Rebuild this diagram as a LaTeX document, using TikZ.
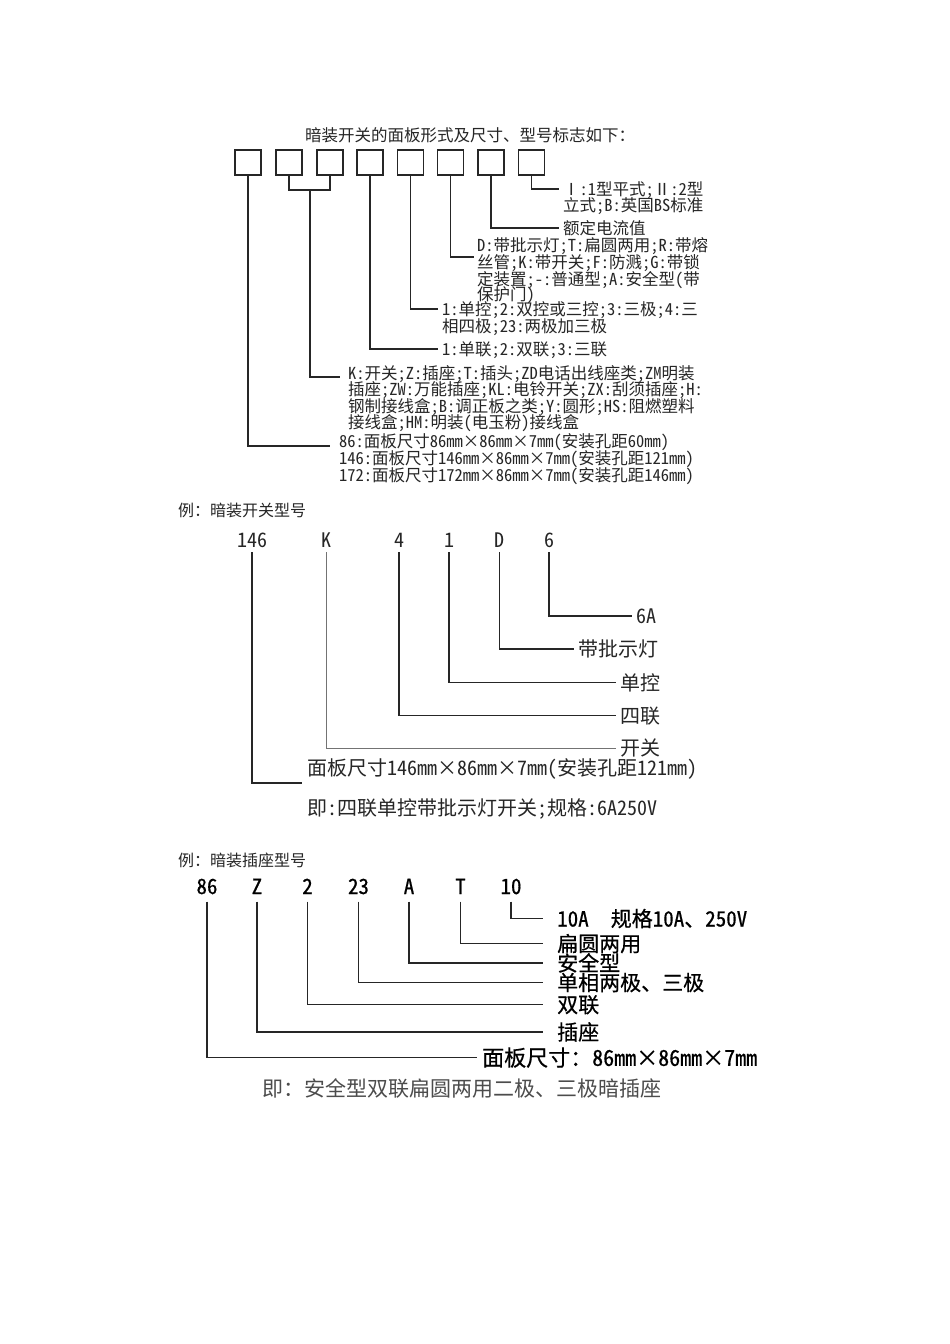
\documentclass[tikz,border=0pt]{standalone}
\usepackage{fontspec}
\newfontfamily\cjk[RawFeature=+hwid]{Noto Sans CJK SC}
\newfontfamily\cjkheavy[RawFeature=+hwid,FakeBold=0.6]{Noto Sans CJK SC}
\begin{document}
\begin{tikzpicture}[x=1pt,y=-1pt,
  conn/.style={line width=1.2pt, black!85},
  connthin/.style={line width=0.8pt, black!55},
  box/.style={draw, line width=1.1pt, black!85, minimum width=26pt, minimum height=25pt, inner sep=0pt},
  t1/.style={anchor=west, inner xsep=4pt, inner ysep=0pt, text height=14.5pt, text depth=2pt, font=\cjk\fontsize{16.5}{18}\selectfont, text=black!85},
  hd/.style={anchor=west, inner sep=0pt, text height=14pt, text depth=2pt, font=\cjk\fontsize{16}{18}\selectfont, text=black!85},
  t2/.style={anchor=west, inner xsep=4pt, inner ysep=0pt, text height=17.6pt, text depth=2.4pt, font=\cjk\fontsize{20}{22}\selectfont, text=black!85},
  code2/.style={inner xsep=0pt, inner ysep=2pt, text height=17.6pt, text depth=2.4pt, font=\cjk\fontsize{20}{22}\selectfont, text=black!85},
  t3/.style={anchor=west, inner xsep=14pt, inner ysep=0pt, text height=18.5pt, text depth=2.5pt, font=\cjkheavy\fontsize{21}{23}\selectfont, text=black},
  code3/.style={inner xsep=0pt, inner ysep=5pt, text height=18.5pt, text depth=2.5pt, font=\cjkheavy\fontsize{21}{23}\selectfont, text=black}
]
\useasboundingbox (0,0) rectangle (950,1344);
\fill[white] (0,0) rectangle (950,1344);

% ---------- Section 1 ----------
\node[hd, anchor=center, font=\cjk\fontsize{16.5}{18}\selectfont] (title) at (470,135) {暗装开关的面板形式及尺寸、型号标志如下：};
\node[box] (b1) at (248,162.5) {};
\node[box] (b2) at (289,162.5) {};
\node[box] (b3) at (330,162.5) {};
\node[box] (b4) at (370,162.5) {};
\node[box] (b5) at (410.5,162.5) {};
\node[box] (b6) at (450.5,162.5) {};
\node[box] (b7) at (491,162.5) {};
\node[box] (b8) at (531.5,162.5) {};

\node[t1] (l8a) at (559,189) {Ⅰ:1型平式;Ⅱ:2型};
\node[t1] (l8b) at (559,205.5) {立式;B:英国BS标准};
\node[t1] (l7) at (559,228) {额定电流值};
\node[t1] (l6a) at (473,245) {D:带批示灯;T:扁圆两用;R:带熔};
\node[t1] (l6b) at (473,262) {丝管;K:带开关;F:防溅;G:带锁};
\node[t1] (l6c) at (473,279) {定装置;-:普通型;A:安全型(带};
\node[t1] (l6d) at (473,294) {保护门)};
\node[t1] (l5a) at (438,309) {1:单控;2:双控或三控;3:三极;4:三};
\node[t1] (l5b) at (438,326) {相四极;23:两极加三极};
\node[t1] (l4) at (438,349) {1:单联;2:双联;3:三联};
\node[t1] (l23a) at (344,373) {K:开关;Z:插座;T:插头;ZD电话出线座类;ZM明装};
\node[t1] (l23b) at (344,389.5) {插座;ZW:万能插座;KL:电铃开关;ZX:刮须插座;H:};
\node[t1] (l23c) at (344,406) {钢制接线盒;B:调正板之类;Y:圆形;HS:阻燃塑料};
\node[t1] (l23d) at (344,422) {接线盒;HM:明装(电玉粉)接线盒};
\node[t1] (l1a) at (335,441) {86:面板尺寸86mm×86mm×7mm(安装孔距60mm)};
\node[t1] (l1b) at (335,458) {146:面板尺寸146mm×86mm×7mm(安装孔距121mm)};
\node[t1] (l1c) at (335,475) {172:面板尺寸172mm×86mm×7mm(安装孔距146mm)};

\coordinate (c6) at (474,257);
\coordinate (c23) at (310,190);
\coordinate (c23e) at (340,377);
\coordinate (c1) at (330,446);

\draw[conn] (b8.south) |- (l8a.west);
\draw[conn] (b7.south) |- (l7.west);
\draw[conn] (b6.south) |- (c6);
\draw[conn] (b5.south) |- (l5a.west);
\draw[conn] (b4.south) |- (l4.west);
\draw[conn] (b2.south) |- (c23) -| (b3.south);
\draw[conn] (c23) |- (c23e);
\draw[conn] (b1.south) |- (c1);

% ---------- Section 2 ----------
\node[hd] (h2) at (178,510) {例：暗装开关型号};
\node[code2] (k146) at (252,540) {146};
\node[code2] (kK) at (326,540) {K};
\node[code2] (k4) at (399,540) {4};
\node[code2] (k1) at (449,540) {1};
\node[code2] (kD) at (499.5,540) {D};
\node[code2] (k6) at (549,540) {6};

\node[t2] (m6) at (632,616) {6A};
\node[t2] (mD) at (574,649) {带批示灯};
\node[t2] (m1) at (616,682.5) {单控};
\node[t2] (m4) at (616,715.5) {四联};
\node[t2] (mK) at (616,748) {开关};
\node[t2] (m146) at (303,768) {面板尺寸146mm×86mm×7mm(安装孔距121mm)};
\node[t2] (mJ) at (303,808) {即:四联单控带批示灯开关;规格:6A250V};
\coordinate (c146) at (302,783);

\draw[conn] (k6.south) |- (m6.west);
\draw[conn] (kD.south) |- (mD.west);
\draw[conn] (k1.south) |- (m1.west);
\draw[conn] (k4.south) |- (m4.west);
\draw[connthin] (kK.south) |- (mK.west);
\draw[conn] (k146.south) |- (c146);

% ---------- Section 3 ----------
\node[hd] (h3) at (178,860) {例：暗装插座型号};
\node[code3] (s86) at (207,886) {86};
\node[code3] (sZ) at (257,886) {Z};
\node[code3] (s2) at (307.5,886) {2};
\node[code3] (s23) at (358.5,886) {23};
\node[code3] (sA) at (409,886) {A};
\node[code3] (sT) at (460.5,886) {T};
\node[code3] (s10) at (511,886) {10};

\node[t3] (n10) at (543,918.5) {10A\hspace{1.05em}规格10A、250V};
\node[t3] (nT) at (543,943.5) {扁圆两用};
\node[t3] (nA) at (543,963) {安全型};
\node[t3] (n23) at (543,982.5) {单相两极、三极};
\node[t3] (n2) at (543,1004.5) {双联};
\node[t3] (nZ) at (543,1032) {插座};
\node[t3, inner xsep=5pt, text height=19.4pt, text depth=2.6pt, font=\cjkheavy\fontsize{22}{24}\selectfont] (n86) at (477,1057.5) {面板尺寸：86mm×86mm×7mm};
\node[t3, inner xsep=0pt, text=black!70, font=\cjk\fontsize{21}{23}\selectfont] (nJ) at (262,1088) {即：安全型双联扁圆两用二极、三极暗插座};

\draw[conn] (s10.south) |- (n10.west);
\draw[conn] (sT.south) |- (nT.west);
\draw[conn] (sA.south) |- (nA.west);
\draw[conn] (s23.south) |- (n23.west);
\draw[conn] (s2.south) |- (n2.west);
\draw[conn] (sZ.south) |- (nZ.west);
\draw[conn] (s86.south) |- (n86.west);
\end{tikzpicture}
\end{document}
